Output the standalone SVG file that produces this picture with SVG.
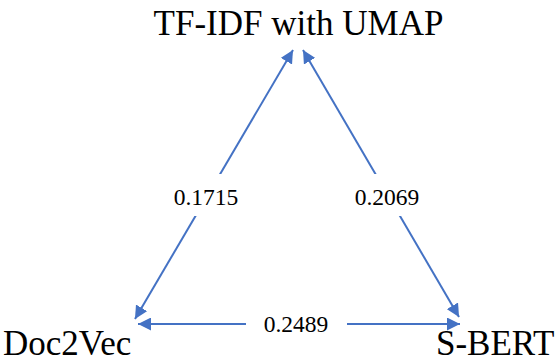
<svg xmlns="http://www.w3.org/2000/svg" width="557" height="362" viewBox="0 0 557 362">
  <style>
    .node { font-size: 35px; fill: #000; }
    .lbl { font-size: 23.5px; fill: #000; text-anchor: middle; }
    .edge { stroke: #4472C4; stroke-width: 2; fill: none; marker-start: url(#ah); marker-end: url(#ah); }
    .box { fill: #fff; }
  </style>
  <defs>
    <marker id="ah" viewBox="0 0 10 10" refX="10" refY="5" markerWidth="6.5" markerHeight="6.5" orient="auto-start-reverse" markerUnits="strokeWidth">
      <path d="M0,0 L10,5 L0,10 z" fill="#4472C4"/>
    </marker>
  </defs>
  <rect width="557" height="362" fill="#fff"/>

  <!-- double-headed connectors with their score labels -->
  <g id="connectors" font-family="Liberation Serif, serif">
    <line class="edge" x1="135" y1="319" x2="293" y2="50"/>
    <line class="edge" x1="303" y1="50" x2="459" y2="317"/>
    <line class="edge" x1="138" y1="324" x2="460" y2="324"/>
    <g id="label-tfidf-doc2vec">
      <rect class="box" x="160" y="174" width="94" height="42"/>
      <text class="lbl" x="206" y="205">0.1715</text>
    </g>
    <g id="label-tfidf-sbert">
      <rect class="box" x="340" y="174" width="94" height="42"/>
      <text class="lbl" x="387" y="205">0.2069</text>
    </g>
    <g id="label-doc2vec-sbert">
      <rect class="box" x="246" y="306" width="101" height="36"/>
      <text class="lbl" x="296" y="332">0.2489</text>
    </g>
  </g>

  <g id="node-tfidf" font-family="Liberation Serif, serif">
    <text class="node" x="298.5" y="35" font-size="35.5" text-anchor="middle">TF-IDF with UMAP</text>
  </g>
  <g id="node-doc2vec" font-family="Liberation Serif, serif">
    <text class="node" x="3" y="355">Doc2Vec</text>
  </g>
  <g id="node-sbert" font-family="Liberation Serif, serif">
    <text class="node" x="436" y="355">S-BERT</text>
  </g>
</svg>
